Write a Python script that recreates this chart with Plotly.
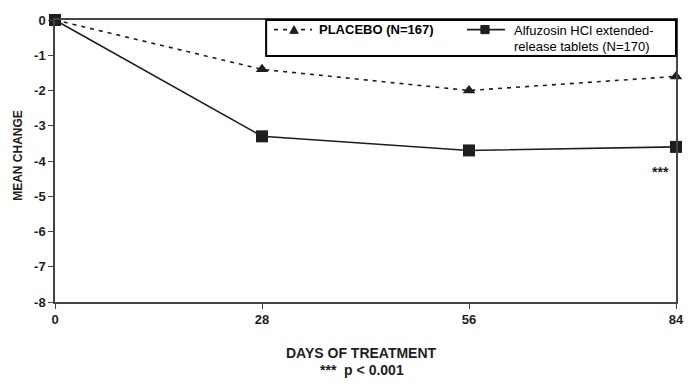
import plotly.graph_objects as go

days = [0, 28, 56, 84]
placebo = [0, -1.4, -2.0, -1.6]
alfuzosin = [0, -3.3, -3.7, -3.6]
y_ticks = [0, -1, -2, -3, -4, -5, -6, -7, -8]
x_ticks = [0, 28, 56, 84]
placebo_label = "PLACEBO (N=167)"
alf_label = ["Alfuzosin HCl extended-", "release tablets (N=170)"]

FONT = "Liberation Sans, Arial, sans-serif"
INK = "#1e1e1e"
AX = "#444"

fig = go.Figure()
fig.add_trace(go.Scatter(
    x=days, y=placebo, mode="lines+markers", showlegend=False,
    line=dict(color=INK, width=1.6, dash="4px,5px"),
    marker=dict(symbol="triangle-up", size=11, color=INK),
    cliponaxis=False,
))
fig.add_trace(go.Scatter(
    x=days, y=alfuzosin, mode="lines+markers", showlegend=False,
    line=dict(color=INK, width=1.6),
    marker=dict(symbol="square", size=12, color=INK),
    cliponaxis=False,
))

# significance marker
fig.add_annotation(x=days[-1], y=alfuzosin[-1], text="<b>***</b>", showarrow=False,
                   xanchor="center", yanchor="middle", xshift=-16, yshift=-25,
                   font=dict(family=FONT, size=14, color=INK))

# axis titles
fig.add_annotation(x=0.494, y=-0.181, xref="paper", yref="paper",
                   text="<b>DAYS OF TREATMENT</b>", showarrow=False,
                   xanchor="center", yanchor="middle",
                   font=dict(family=FONT, size=14, color=INK))
fig.add_annotation(x=0.494, y=-0.241, xref="paper", yref="paper",
                   text="<b>***  p &lt; 0.001</b>", showarrow=False,
                   xanchor="center", yanchor="middle",
                   font=dict(family=FONT, size=14, color=INK))
fig.add_annotation(x=-0.060, y=0.521, xref="paper", yref="paper",
                   text="<b>MEAN CHANGE</b>", showarrow=False, textangle=-90,
                   xanchor="center", yanchor="middle",
                   font=dict(family=FONT, size=12, color=INK))

# legend (drawn manually to match the boxed legend)
lx0, lx1, ly0, ly1 = 0.340, 1.0, 0.872, 1.0
row = 0.966
fig.add_shape(type="rect", xref="paper", yref="paper", x0=lx0, x1=lx1, y0=ly0, y1=ly1,
              line=dict(color="black", width=2), fillcolor="white", layer="above")
fig.add_shape(type="line", xref="paper", yref="paper", x0=0.3527, x1=0.4139, y0=row, y1=row,
              line=dict(color=INK, width=1.6, dash="4px,5px"))
tx, dx, dy = 0.3849, 0.0068, 0.0135
fig.add_shape(type="path", xref="paper", yref="paper",
              path=f"M {tx-dx},{row-dy} L {tx+dx},{row-dy} L {tx},{row+dy} Z",
              fillcolor=INK, line=dict(color=INK, width=1))
fig.add_shape(type="line", xref="paper", yref="paper", x0=0.6634, x1=0.7246, y0=row, y1=row,
              line=dict(color=INK, width=1.6))
sx, sdx, sdy = 0.6924, 0.0066, 0.0145
fig.add_shape(type="rect", xref="paper", yref="paper",
              x0=sx-sdx, x1=sx+sdx, y0=row-sdy, y1=row+sdy,
              fillcolor=INK, line=dict(color=INK, width=1))
fig.add_annotation(x=0.4219, y=row, xref="paper", yref="paper",
                   text=f"<b>{placebo_label}</b>", showarrow=False,
                   xanchor="left", yanchor="middle",
                   font=dict(family=FONT, size=13, color="black"))
fig.add_annotation(x=0.7359, y=0.964, xref="paper", yref="paper",
                   text=alf_label[0], showarrow=False,
                   xanchor="left", yanchor="middle",
                   font=dict(family=FONT, size=13, color="black"))
fig.add_annotation(x=0.7359, y=0.907, xref="paper", yref="paper",
                   text=alf_label[1], showarrow=False,
                   xanchor="left", yanchor="middle",
                   font=dict(family=FONT, size=13, color="black"))

fig.update_layout(
    width=698, height=386,
    margin=dict(l=47, r=30, t=12, b=92),
    paper_bgcolor="white", plot_bgcolor="white",
    font=dict(family=FONT, color=INK),
    showlegend=False,
    xaxis=dict(
        range=[0, 84], tickvals=x_ticks, ticktext=[f"<b>{v}</b>" for v in x_ticks],
        showgrid=False, zeroline=False, showline=True, linecolor=AX, linewidth=1.5,
        mirror=True, ticks="outside", ticklen=5, tickcolor=AX, automargin=False,
        tickfont=dict(family=FONT, size=13, color=INK),
    ),
    yaxis=dict(
        range=[-8, 0], tickvals=y_ticks, ticktext=[f"<b>{v}</b>" for v in y_ticks],
        showgrid=False, zeroline=False, showline=True, linecolor=AX, linewidth=1.5,
        mirror=True, ticks="outside", ticklen=5, tickcolor=AX, automargin=False,
        tickfont=dict(family=FONT, size=13, color=INK),
    ),
)

fig.write_html("out.html")
